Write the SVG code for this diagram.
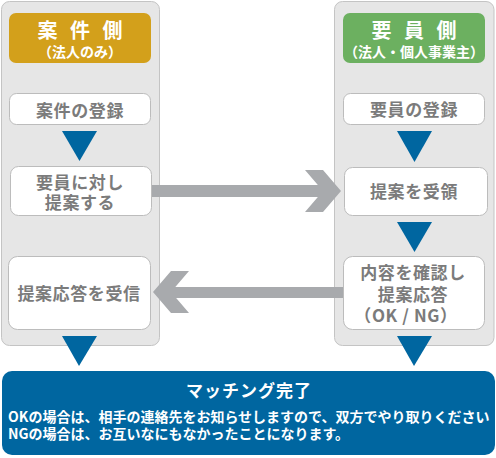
<svg xmlns="http://www.w3.org/2000/svg" width="496" height="458" viewBox="0 0 496 458">
<style>
.panel{fill:#e6e6e6;stroke:#c4c4c4;stroke-width:1}
.node{fill:#ffffff;stroke:#bcbcbc;stroke-width:1}
.jp{font-family:"Noto Sans CJK JP","Noto Sans CJK SC",sans-serif;font-weight:bold}
.nt{fill:#7b7b7b;font-size:17px;letter-spacing:0.6px;text-anchor:middle}
.ht{fill:#ffffff;text-anchor:middle}
.tri{fill:#0066a0}
.arr{fill:#a8aaad}
</style>
<g id="panel-left"><rect class="panel" x="1.5" y="1.5" width="158" height="344" rx="8"/></g>
<g id="panel-right"><rect class="panel" x="334.5" y="1.5" width="159.5" height="344" rx="8"/></g>

<g id="header-left">
<rect x="9" y="13" width="142" height="50" rx="7" fill="#d3a01b"/>
<text class="jp ht" x="82" y="37.6" font-size="20" letter-spacing="4">案 件 側</text>
<text class="jp ht" x="80" y="57.3" font-size="14">（法人のみ）</text>
</g>
<g id="header-right">
<rect x="343" y="13" width="142" height="50" rx="7" fill="#6cb060"/>
<text class="jp ht" x="416" y="37.6" font-size="20" letter-spacing="4">要 員 側</text>
<text class="jp ht" x="414" y="57.3" font-size="14">（法人・個人事業主）</text>
</g>

<g id="node-l1"><rect class="node" x="9.5" y="93.5" width="141" height="31" rx="7"/>
<text class="jp nt" x="80" y="116.5">案件の登録</text></g>
<g id="node-l2"><rect class="node" x="10.5" y="166.5" width="141" height="49" rx="8"/>
<text class="jp nt" x="80" y="188.5">要員に対し</text>
<text class="jp nt" x="80" y="208.5">提案する</text></g>
<g id="node-l3"><rect class="node" x="8.5" y="256.5" width="142" height="73" rx="9"/>
<text class="jp nt" x="79" y="299.5">提案応答を受信</text></g>

<g id="node-r1"><rect class="node" x="343.5" y="93.5" width="141" height="31" rx="7"/>
<text class="jp nt" x="414" y="116">要員の登録</text></g>
<g id="node-r2"><rect class="node" x="344.5" y="167.5" width="143" height="48" rx="8"/>
<text class="jp nt" x="414" y="197.5">提案を受領</text></g>
<g id="node-r3"><rect class="node" x="343.5" y="256.5" width="141" height="73" rx="9"/>
<text class="jp nt" x="413" y="278.5">内容を確認し</text>
<text class="jp nt" x="413" y="300.5">提案応答</text>
<text class="jp nt" x="406" y="321.5">（OK / NG）</text></g>

<g id="connectors">
<polygon class="tri" points="62,131 97,131 79.5,161"/>
<polygon class="tri" points="397,131 432,131 414.5,162"/>
<polygon class="tri" points="397,222 432,222 414.5,252"/>
<polygon class="tri" points="62,336 97,336 79,366"/>
<polygon class="tri" points="397,336 432,336 414,366"/>
<rect class="arr" x="152" y="185" width="172" height="12"/>
<polygon class="arr" points="305,170 323,170 341,191 323,212 305,212 323,191"/>
<rect class="arr" x="170" y="287" width="173" height="11"/>
<polygon class="arr" points="153,292 171,271 189,271 171,292 189,313 171,313"/>
</g>

<g id="result">
<rect x="2" y="371" width="493" height="84" rx="10" fill="#0066a0"/>
<text class="jp ht" x="249" y="396.5" font-size="17" letter-spacing="1">マッチング完了</text>
<text class="jp" x="8" y="422" font-size="14" fill="#ffffff">OKの場合は、相手の連絡先をお知らせしますので、双方でやり取りください</text>
<text class="jp" x="8" y="439" font-size="14" fill="#ffffff">NGの場合は、お互いなにもなかったことになります。</text>
</g>
</svg>
